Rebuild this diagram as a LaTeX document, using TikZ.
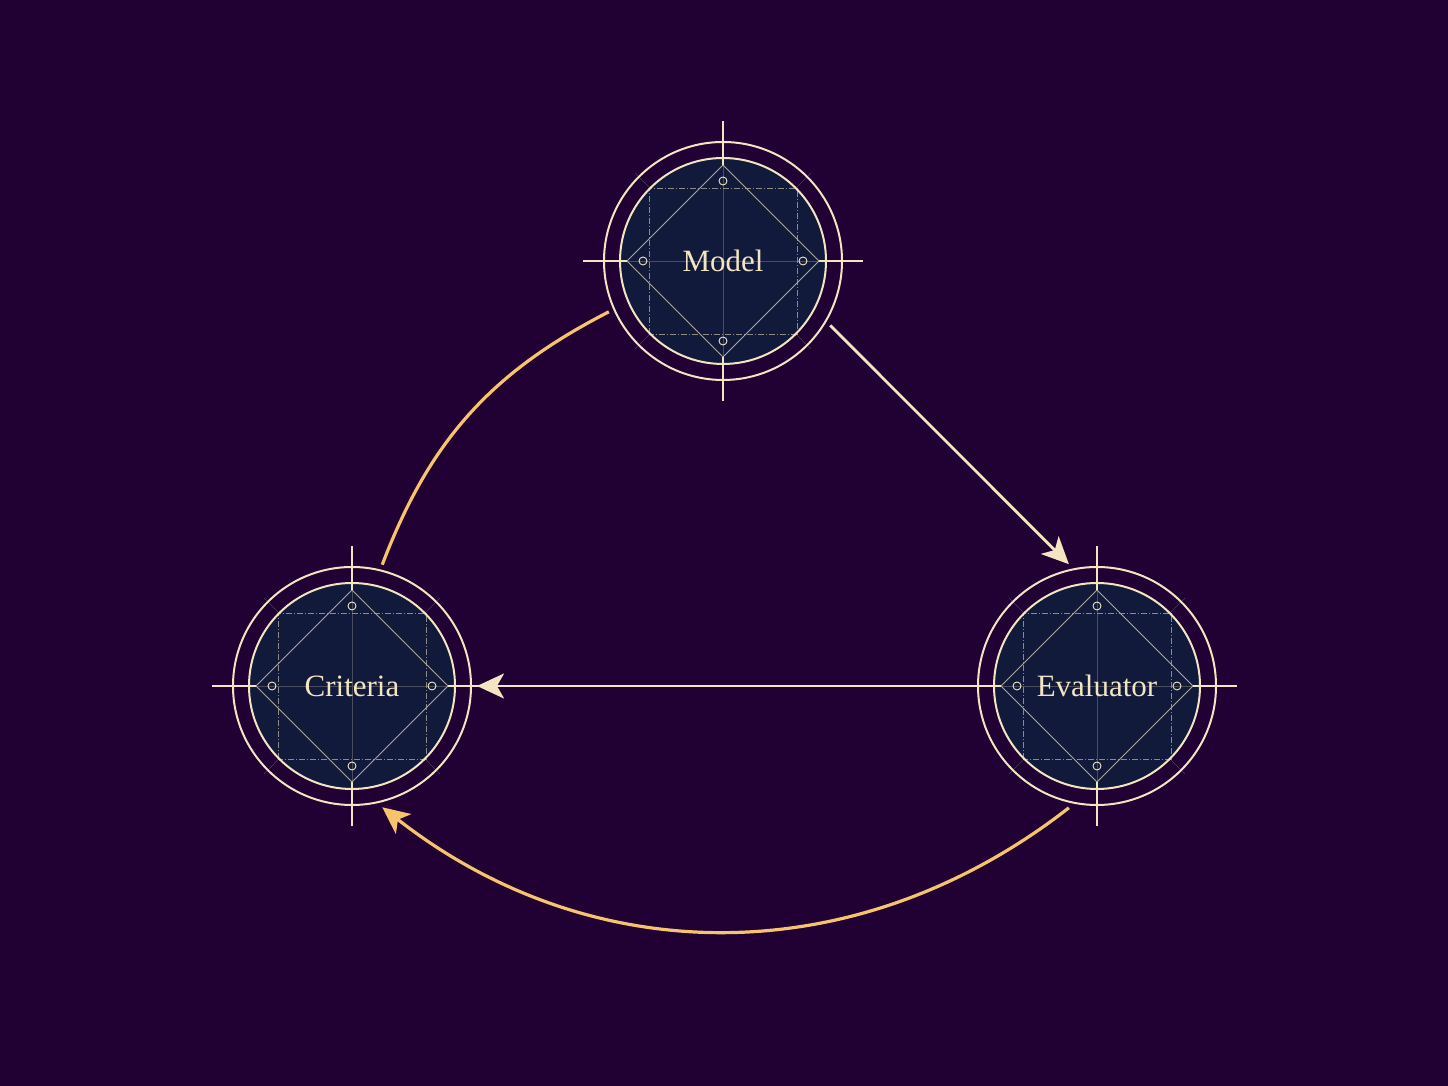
\documentclass[tikz,border=0pt]{standalone}
\usepackage{fontspec}
\setmainfont{Liberation Serif}
\usetikzlibrary{arrows.meta}
\definecolor{bg}{HTML}{210033}
\definecolor{navy}{HTML}{121A3C}
\definecolor{cream}{HTML}{F3E5C2}
\definecolor{gold}{HTML}{F6C46C}
\tikzset{
  ornament/.pic={
    \fill[navy] (0,0) circle (103pt);
    \draw[cream!25!navy, line width=0.6pt] (-96,0)--(96,0) (0,-96)--(0,96);
    \draw[cream!20!navy, line width=0.6pt] (-74,-74)--(-88,-88) (74,74)--(88,88) (-74,74)--(-88,88) (74,-74)--(88,-88);
    \draw[cream!55!navy, line width=0.8pt, dash pattern=on 6pt off 2pt on 1pt off 2pt] (-74,-73) rectangle (74,73);
    \draw[cream!70!navy, line width=0.8pt] (-96,0)--(0,96)--(96,0)--(0,-96)--cycle;
    \foreach \a in {0,90,180,270} \draw[cream, line width=0.9pt] (\a:80) circle (4pt);
    \draw[cream, line width=2pt] (0,0) circle (103pt);
    \draw[cream, line width=1.6pt] (-140,0)--(-96,0) (96,0)--(140,0) (0,96)--(0,140) (0,-96)--(0,-140);
  },
  hub/.style={circle, minimum size=238pt, draw=cream, line width=2pt, text=cream,
    font=\fontsize{31}{36}\selectfont, outer sep=6pt, inner sep=0pt},
  tip/.style={-{Stealth[length=27pt,width=25pt,inset=7pt]}},
  creamline/.style={draw=cream, line width=2.8pt},
  goldline/.style={draw=gold, line width=3.2pt},
}
\begin{document}
\begin{tikzpicture}[x=1pt,y=1pt]
\fill[bg] (0,0) rectangle (1448,1086);
\useasboundingbox (0,0) rectangle (1448,1086);
\pic at (723,825) {ornament};
\pic at (352,400) {ornament};
\pic at (1097,400) {ornament};
\node[hub] (m) at (723,825) {Model};
\node[hub] (c) at (352,400) {Criteria};
\node[hub] (e) at (1097,400) {Evaluator};
\draw[creamline, tip] (m.-31) -- (e.103);
\draw[creamline, tip, shorten <=6pt] (e.180) -- (c.0);
\draw[goldline, tip] (e.-103) to[bend left=38] (c.-76);
\draw[goldline] (c.76) to[bend left=21] (m.-156);
\end{tikzpicture}
\end{document}
